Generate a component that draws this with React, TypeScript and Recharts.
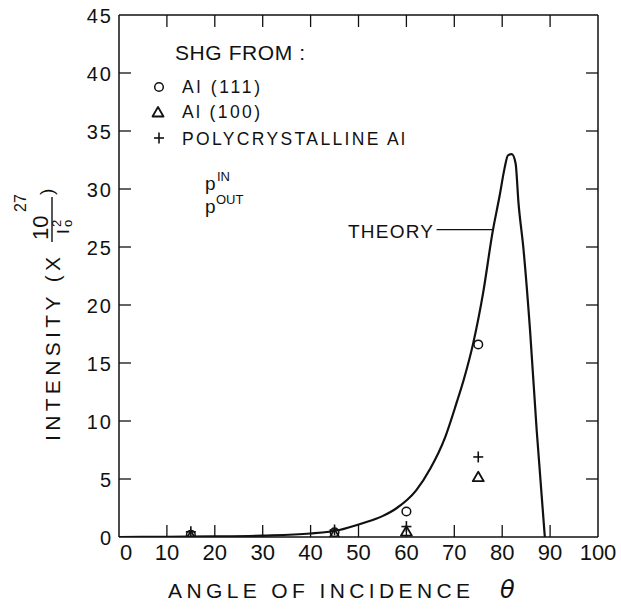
import React from 'react';
import {
  ComposedChart,
  Line,
  Scatter,
  XAxis,
  YAxis,
  ReferenceLine,
} from 'recharts';

// plot frame in page pixels
const W = 621;
const H = 611;
const PL = 119;
const PR = 598;
const PT = 15;
const PB = 537;
const X_AXIS_H = 30;
const Y_AXIS_W = 40;
const TICK_LEN = 12;

const FONT = '"Liberation Sans", Arial, sans-serif';
const INK = '#111';

const xTicks = [0, 10, 20, 30, 40, 50, 60, 70, 80, 90, 100];
const yTicks = [0, 5, 10, 15, 20, 25, 30, 35, 40, 45];
const xInner = [10, 20, 30, 40, 50, 60, 70, 80, 90];
const yInner = [5, 10, 15, 20, 25, 30, 35, 40];

// theory curve
const theoryAngle = [0, 10, 20, 30, 40, 46, 51, 55, 58, 62, 65, 68, 70.5, 72, 74, 76, 78, 79.5, 80.5, 81.2, 82, 82.8, 83.4, 84.4, 85.8, 87.2, 88.9];
const theoryValue = [0, 0.02, 0.05, 0.12, 0.3, 0.6, 1.2, 1.8, 2.5, 4.0, 5.9, 8.5, 11.6, 13.6, 16.8, 21.0, 26.3, 29.5, 31.8, 32.9, 33.0, 32.2, 28.8, 25.0, 17.9, 9.2, 0];

// measured points
const sampleAngle = [15, 45, 60, 75];
const al111 = [0.2, 0.4, 2.2, 16.6];
const al100 = [0.1, 0.25, 0.5, 5.2];
const polyAl = [0.45, 0.6, 0.9, 6.9];

const theory = theoryAngle.map((x, i) => ({ x, y: theoryValue[i] }));
const toPts = (vals: number[]) => sampleAngle.map((x, i) => ({ x, y: vals[i] }));

// same linear frame as the chart, only used for the inward frame ticks
const fx = (v: number) => PL + (v / 100) * (PR - PL);
const fy = (v: number) => PB - (v / 45) * (PB - PT);

function CircleMark({ cx, cy }: any) {
  return <circle cx={cx} cy={cy} r={4.3} fill="none" stroke={INK} strokeWidth={1.5} />;
}

function TriMark({ cx, cy }: any) {
  return (
    <path
      d={`M${cx - 5.5},${cy + 4.5} L${cx + 5.5},${cy + 4.5} L${cx},${cy - 5} Z`}
      fill="none"
      stroke={INK}
      strokeWidth={1.8}
      strokeLinejoin="round"
    />
  );
}

function PlusMark({ cx, cy }: any) {
  return (
    <g stroke={INK} strokeWidth={1.6}>
      <line x1={cx - 5} x2={cx + 5} y1={cy} y2={cy} />
      <line x1={cx} x2={cx} y1={cy - 5.5} y2={cy + 5.5} />
    </g>
  );
}

function XTick({ x, payload }: any) {
  const v = payload.value;
  return (
    <text x={x + (v === 0 ? 7 : 0)} y={PB + 23} textAnchor="middle" fontSize={22} fontFamily={FONT} fill={INK}>
      {v}
    </text>
  );
}

function YTick({ y, payload }: any) {
  return (
    <text x={PL - 6} y={y + 7.5} textAnchor="end" fontSize={20} letterSpacing={2} fontFamily={FONT} fill={INK}>
      {payload.value}
    </text>
  );
}

function FrameTicks() {
  return (
    <g stroke={INK} strokeWidth={1.3}>
      {xInner.map((v) => (
        <line key={'b' + v} x1={fx(v)} x2={fx(v)} y1={PB} y2={PB - TICK_LEN} />
      ))}
      {xInner.map((v) => (
        <line key={'t' + v} x1={fx(v)} x2={fx(v)} y1={PT} y2={PT + TICK_LEN} />
      ))}
      {yInner.map((v) => (
        <line key={'l' + v} x1={PL} x2={PL + TICK_LEN} y1={fy(v)} y2={fy(v)} />
      ))}
      {yInner.map((v) => (
        <line key={'r' + v} x1={PR} x2={PR - TICK_LEN} y1={fy(v)} y2={fy(v)} />
      ))}
    </g>
  );
}

function Notes() {
  return (
    <svg width={W} height={H} style={{ position: 'absolute', left: 0, top: 0, pointerEvents: 'none' }}>
      <FrameTicks />
      <g fontFamily={FONT} fill={INK}>
        {/* legend */}
        <text x={175} y={60} fontSize={21} textLength={130} lengthAdjust="spacing">SHG FROM :</text>
        <CircleMark cx={159} cy={87} />
        <text x={182} y={93} fontSize={17.5} textLength={78} lengthAdjust="spacing">Al (111)</text>
        <TriMark cx={158} cy={112} />
        <text x={182} y={118} fontSize={17.5} textLength={78} lengthAdjust="spacing">Al (100)</text>
        <PlusMark cx={159} cy={138} />
        <text x={182} y={145} fontSize={17.5} textLength={223} lengthAdjust="spacing">POLYCRYSTALLINE Al</text>

        <text x={205} y={190} fontSize={19}>p</text>
        <text x={217} y={181} fontSize={13}>IN</text>
        <text x={205} y={213} fontSize={19}>p</text>
        <text x={216} y={204} fontSize={13}>OUT</text>

        <text x={348} y={238} fontSize={19} textLength={85} lengthAdjust="spacing">THEORY</text>

        {/* x title */}
        <text x={168} y={598} fontSize={21} textLength={302} lengthAdjust="spacing">ANGLE OF INCIDENCE</text>
        <text x={500} y={598} fontSize={24} fontStyle="italic" fontFamily='"DejaVu Sans", sans-serif'>θ</text>

        {/* y title */}
        <g transform="translate(60,441) rotate(-90)">
          <text x={0} y={0} fontSize={21} textLength={184} lengthAdjust="spacing">INTENSITY (X</text>
          <text x={201} y={-12} fontSize={22}>10</text>
          <text x={229} y={-34} fontSize={16}>27</text>
          <line x1={199} x2={244} y1={-8} y2={-8} stroke={INK} strokeWidth={1.4} />
          <text x={207} y={9} fontSize={17}>I</text>
          <text x={214} y={1} fontSize={13}>2</text>
          <text x={214} y={12} fontSize={13}>o</text>
          <text x={246} y={-7} fontSize={19}>)</text>
        </g>
      </g>
    </svg>
  );
}

export default function App() {
  return (
    <div style={{ position: 'absolute', left: 0, top: 0, width: W, height: H, background: '#fff' }}>
      <ComposedChart
        width={W}
        height={H}
        margin={{ top: PT, right: W - PR, bottom: H - PB - X_AXIS_H, left: PL - Y_AXIS_W }}
      >
        <XAxis
          dataKey="x"
          type="number"
          domain={[0, 100]}
          ticks={xTicks}
          height={X_AXIS_H}
          tickSize={0}
          tick={<XTick />}
          interval={0}
          axisLine={{ stroke: INK, strokeWidth: 1.5 }}
          tickLine={false}
          allowDataOverflow
        />
        <YAxis
          type="number"
          domain={[0, 45]}
          ticks={yTicks}
          width={Y_AXIS_W}
          tickSize={0}
          tick={<YTick />}
          interval={0}
          axisLine={{ stroke: INK, strokeWidth: 1.5 }}
          tickLine={false}
          allowDataOverflow
        />
        <ReferenceLine y={45} stroke={INK} strokeWidth={1.5} />
        <ReferenceLine x={100} stroke={INK} strokeWidth={1.5} />
        <ReferenceLine
          segment={[{ x: 66.3, y: 26.5 }, { x: 78.1, y: 26.5 }]}
          stroke={INK}
          strokeWidth={1.3}
        />
        <Line
          data={theory}
          dataKey="y"
          type="monotone"
          stroke={INK}
          strokeWidth={2.2}
          dot={false}
          activeDot={false}
          isAnimationActive={false}
        />
        <Scatter data={toPts(al111)} dataKey="y" shape={<CircleMark />} isAnimationActive={false} />
        <Scatter data={toPts(al100)} dataKey="y" shape={<TriMark />} isAnimationActive={false} />
        <Scatter data={toPts(polyAl)} dataKey="y" shape={<PlusMark />} isAnimationActive={false} />
      </ComposedChart>
      <Notes />
    </div>
  );
}
